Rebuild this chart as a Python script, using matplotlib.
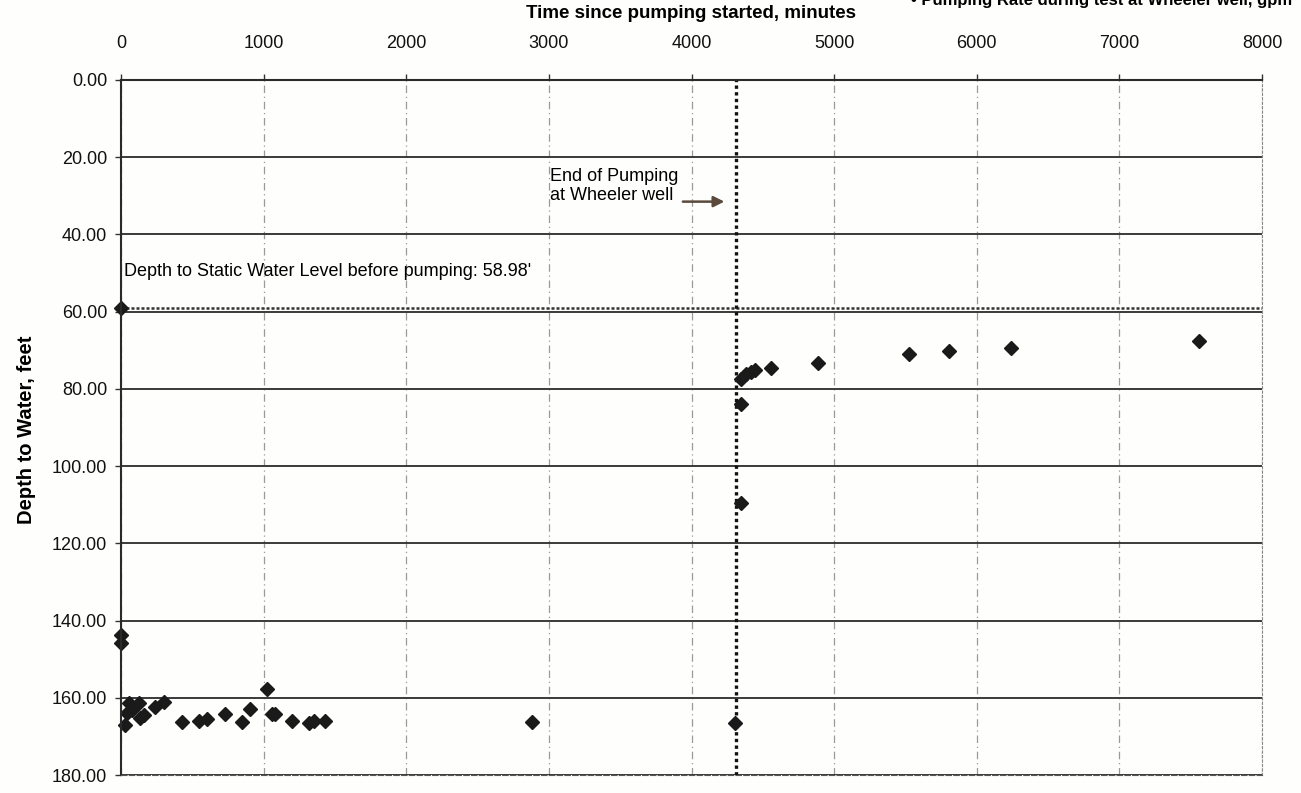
import numpy as np
import matplotlib.pyplot as plt
from matplotlib.ticker import FormatStrFormatter, MultipleLocator

plt.rcParams['font.family'] = ['Liberation Sans', 'DejaVu Sans']

# Drawdown during pumping (minutes since start, depth to water in feet)
pump_time = [0, 0, 0, 30, 42, 54, 77, 124, 136, 159, 241, 299,
             428, 545, 603, 731, 848, 907, 1024, 1059, 1082,
             1199, 1316, 1351, 1433, 2879, 4305]
pump_depth = [58.98, 143.7, 145.9, 167.0, 164.0, 161.4, 163.2, 161.4, 165.3,
              164.5, 162.3, 161.0, 166.3, 166.1, 165.4, 164.2, 166.3,
              162.8, 157.6, 164.1, 164.3, 166.1, 166.5, 166.1, 166.1,
              166.2, 166.5]

# Recovery after the Wheeler well was shut off
recov_time = [4344, 4344, 4349, 4384, 4419, 4442, 4558, 4884, 5526, 5805,
              6240, 7560]
recov_depth = [109.5, 83.9, 77.4, 76.1, 75.5, 75.2, 74.6, 73.3, 70.9, 70.3,
               69.5, 67.7]

static_level = 58.98
pump_end = 4315

fig = plt.figure(figsize=(13.01, 7.93), dpi=100, facecolor='#fefefc')
ax = fig.add_axes([121 / 1301, 1 - 775 / 793, (1262 - 121) / 1301, (775 - 80) / 793])
ax.set_facecolor('#fefefc')

ax.set_xlim(0, 8000)
ax.set_ylim(180, 0)
ax.xaxis.set_major_locator(MultipleLocator(1000))
ax.yaxis.set_major_locator(MultipleLocator(20))
ax.yaxis.set_major_formatter(FormatStrFormatter('%.2f'))
ax.xaxis.tick_top()
ax.tick_params(axis='both', labelsize=13, length=4, width=1, color='#333333',
               labelcolor='#111111')
ax.tick_params(axis='x', pad=16)
ax.tick_params(axis='y', pad=6)

# gridlines: solid horizontals, faint dashed verticals
ax.yaxis.grid(True, color='#3a3a3a', linewidth=1.4)
ax.xaxis.grid(True, color='#9a9a9a', linewidth=0.9, linestyle=(0, (6, 3, 1, 3)))
ax.set_axisbelow(True)

for side in ['left', 'top']:
    ax.spines[side].set_color('#2a2a2a')
    ax.spines[side].set_linewidth(1.5)
ax.spines['bottom'].set_color('#555555')
ax.spines['bottom'].set_linestyle((0, (5, 2)))
ax.spines['right'].set_color('#888888')
ax.spines['right'].set_linestyle((0, (2, 2)))

ax.axhline(static_level, color='#333333', linewidth=1.8, linestyle=(0, (1.2, 0.8)))
ax.axvline(pump_end, color='#111111', linewidth=2.4, linestyle=(0, (1, 1)))

ax.plot(pump_time, pump_depth, linestyle='none', marker='D', markersize=7,
        color='#1a1a1a', clip_on=False)
ax.plot(recov_time, recov_depth, linestyle='none', marker='D', markersize=7,
        color='#1a1a1a', clip_on=False)

ax.text(20, 49.5, "Depth to Static Water Level before pumping: 58.98'",
        fontsize=13, va='center', ha='left')
ax.text(3010, 27.5, "End of Pumping\nat Wheeler well", fontsize=13,
        va='center', ha='left', linespacing=1.15)
ax.annotate('', xy=(4250, 31.5), xytext=(3920, 31.5),
            arrowprops=dict(arrowstyle='-|>', color='#5a4a3c', lw=1.8,
                            mutation_scale=16))

fig.text(691 / 1301, 1 - 14 / 793, 'Time since pumping started, minutes',
         fontsize=13.5, fontweight='bold', ha='center', va='center')
fig.text(27 / 1301, 1 - 430 / 793, 'Depth to Water, feet', fontsize=14.5,
         fontweight='bold', rotation=90, ha='center', va='center')
# legend entry running off the top edge
fig.text(1292 / 1301, 1.0, '\u2022 Pumping Rate during test at Wheeler well, gpm',
         fontsize=12, fontweight='bold', ha='right', va='center')

fig.savefig('out.png', dpi=100, facecolor=fig.get_facecolor())
